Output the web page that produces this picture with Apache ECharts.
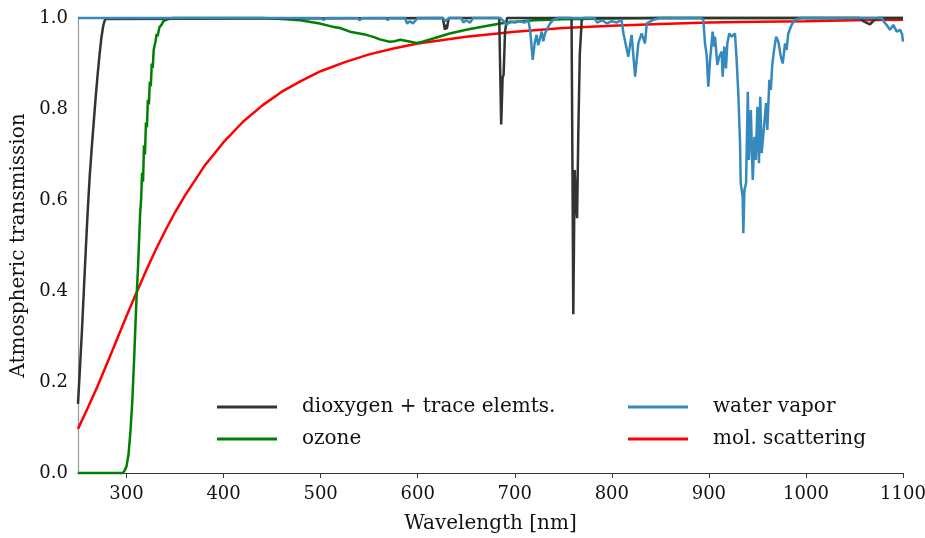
<!DOCTYPE html>
<html>
<head>
<meta charset="utf-8">
<script src="https://cdn.jsdelivr.net/npm/echarts@6/dist/echarts.min.js"></script>
<style>
html,body{margin:0;padding:0;background:#fff;}
#chart{width:925px;height:538px;}
</style>
</head>
<body>
<div id="chart"></div>
<script>
// ---- Data ----
const seriesNames = ['dioxygen + trace elemts.', 'ozone', 'water vapor', 'mol. scattering'];
const xTicks = [300, 400, 500, 600, 700, 800, 900, 1000, 1100];
const yTicks = [0, 0.2, 0.4, 0.6, 0.8, 1.0];

const o2Wl = [250, 252, 254, 256, 258, 260, 262, 264, 266, 268, 270, 272, 274, 276, 278, 280,
  626, 628, 629, 630, 632, 684, 686, 687.5, 688.5, 690, 692,
  758.5, 759.5, 760.3, 761, 761.7, 763, 764.2, 765.5, 767, 769, 771,
  1055, 1060, 1066, 1070, 1075, 1100];
const o2Val = [0.152, 0.23, 0.31, 0.40, 0.49, 0.575, 0.65, 0.71, 0.765, 0.82, 0.87, 0.915, 0.955, 0.983, 0.998, 1.0,
  1.0, 0.974, 0.985, 0.976, 1.0, 1.0, 0.766, 0.87, 0.875, 0.97, 1.0,
  1.0, 0.65, 0.349, 0.5, 0.666, 0.6, 0.56, 0.75, 0.92, 0.995, 1.0,
  1.0, 0.992, 0.986, 0.995, 1.0, 1.0];

const o3Wl = [250, 296, 298, 300, 302, 304, 306, 308, 310, 312, 314, 315, 316, 317, 318, 319, 320, 321, 322, 323,
  324, 325, 326, 327, 328, 330, 331, 332, 334, 336, 338, 342, 348, 440, 460, 479, 490, 499, 512, 520, 530,
  547, 555, 561, 571, 576, 582, 590, 599, 605, 616, 633, 650, 665, 685, 700, 720, 750, 800, 850, 1100];
const o3Val = [0, 0, 0.005, 0.015, 0.04, 0.09, 0.16, 0.26, 0.37, 0.46, 0.57, 0.6, 0.66, 0.64, 0.72, 0.70, 0.77, 0.76, 0.82, 0.81,
  0.86, 0.85, 0.90, 0.89, 0.93, 0.95, 0.965, 0.96, 0.98, 0.985, 0.993, 0.997, 1.0, 1.0, 0.998, 0.995, 0.991, 0.988, 0.981, 0.978, 0.970,
  0.963, 0.958, 0.953, 0.948, 0.949, 0.952, 0.949, 0.945, 0.948, 0.955, 0.966, 0.974, 0.980, 0.988, 0.992, 0.995, 0.997, 0.999, 1.0, 1.0];

const h2oWl = [250, 500, 503, 506, 538, 540, 543, 567, 569, 571, 587, 589, 592, 595, 598, 600,
  626, 629, 632, 645, 647, 650, 654, 657, 685, 689, 692, 695, 700, 705, 710, 714, 716, 718.5, 720.5,
  722.5, 724.2, 726, 727.7, 729.4, 731, 732.9, 736.3, 739.7, 745,
  782, 785, 790, 795, 800, 805, 810, 812, 817, 820.4, 824, 827.3, 830.7, 834.2, 836, 842.7, 850,
  892, 894.3, 896, 897.7, 899.4, 901.2, 903.9, 905.3, 906.3, 908.7, 910.7, 913.2, 914.2, 915.9, 917.6, 919, 921,
  923.5, 926.9, 928.6, 930.3, 932.1, 932.8, 934.8, 935.5, 936.6, 938.3, 940.1, 941.3, 943.2, 945.2, 946.9,
  948.3, 950, 951.6, 952.9, 954.4, 956.8, 958.9, 960.2, 962.3, 963.8, 965.4, 967.2, 969.3, 971.6, 974.1,
  976.1, 978.5, 980.1, 981.8, 985.3, 988.8, 995,
  1078, 1081, 1083, 1086.6, 1090, 1093.5, 1097, 1099, 1100];
const h2oVal = [1.0, 1.0, 0.996, 1.0, 1.0, 0.995, 1.0, 1.0, 0.995, 1.0, 1.0, 0.988, 0.993, 0.988, 0.995, 1.0,
  1.0, 0.993, 1.0, 1.0, 0.99, 0.995, 0.99, 1.0, 1.0, 0.992, 0.985, 0.993, 0.99, 0.993, 0.99, 0.995, 0.97, 0.908, 0.945,
  0.963, 0.94, 0.955, 0.97, 0.949, 0.965, 0.974, 0.988, 0.996, 1.0,
  1.0, 0.99, 0.995, 0.988, 0.993, 0.99, 0.996, 0.966, 0.915, 0.963, 0.871, 0.944, 0.966, 0.944, 0.988, 0.996, 1.0,
  1.0, 0.996, 0.944, 0.919, 0.849, 0.908, 0.97, 0.937, 0.959, 0.897, 0.915, 0.926, 0.871, 0.937, 0.889, 0.944, 0.966,
  0.959, 0.966, 0.908, 0.835, 0.725, 0.637, 0.607, 0.527, 0.622, 0.637, 0.838, 0.688, 0.798, 0.644, 0.739,
  0.688, 0.805, 0.681, 0.827, 0.703, 0.761, 0.813, 0.754, 0.864, 0.842, 0.9, 0.93, 0.959, 0.948, 0.915,
  0.9, 0.944, 0.93, 0.966, 0.985, 0.996, 1.0,
  1.0, 0.99, 0.985, 0.974, 0.985, 0.97, 0.974, 0.965, 0.948];

const rayWl = [250, 260, 270, 280, 290, 300, 310, 320, 330, 340, 350, 360, 380, 400, 420, 440, 460, 480, 500,
  525, 550, 575, 600, 650, 700, 750, 800, 850, 900, 950, 1000, 1050, 1100];
const rayVal = [0.097, 0.143, 0.190, 0.241, 0.293, 0.345, 0.395, 0.444, 0.490, 0.533, 0.573, 0.609, 0.674, 0.727, 0.772, 0.808, 0.838, 0.862, 0.883,
  0.903, 0.920, 0.933, 0.944, 0.959, 0.970, 0.978, 0.983, 0.987, 0.990, 0.992, 0.993, 0.995, 0.996];

const colors = ['#333333', '#008000', '#348ABD', '#FF0000'];

function pairs(xs, ys) { return xs.map((x, i) => [x, ys[i]]); }

const FONT = 'DejaVu Serif';
const chart = echarts.init(document.getElementById('chart'), null, {renderer: 'canvas'});

function lineSeries(name, xs, ys, color, z) {
  return {
    name: name, type: 'line', data: pairs(xs, ys), showSymbol: false, symbol: 'none',
    clip: false, z: z, animation: false,
    lineStyle: {color: color, width: 2.5}, itemStyle: {color: color}
  };
}

const legendCommon = {
  orient: 'vertical', icon: 'rect', itemWidth: 60, itemHeight: 3, itemGap: 12, padding: 0,
  textStyle: {fontFamily: FONT, fontSize: 20, color: '#111', padding: [0, 0, 0, 20]},
  selectedMode: false
};

chart.setOption({
  animation: false,
  backgroundColor: '#fff',
  color: colors,
  grid: {left: 78, right: 22, top: 18, bottom: 65, containLabel: false, outerBoundsMode: 'none'},
  legend: [
    Object.assign({}, legendCommon, {data: [seriesNames[0], seriesNames[1]], left: 217, top: 397}),
    Object.assign({}, legendCommon, {data: [seriesNames[2], seriesNames[3]], left: 628, top: 397})
  ],
  xAxis: {
    type: 'value', min: 250, max: 1100,
    name: 'Wavelength [nm]', nameLocation: 'middle', nameGap: 41,
    nameTextStyle: {fontFamily: FONT, fontSize: 20, color: '#111'},
    axisLine: {show: true, lineStyle: {color: '#333', width: 1.2}},
    axisTick: {show: true, inside: false, length: 5, customValues: xTicks, lineStyle: {color: '#333'}},
    axisLabel: {fontFamily: FONT, fontSize: 18, color: '#111', margin: 12, customValues: xTicks,
      formatter: v => String(v)},
    splitLine: {show: false}
  },
  yAxis: {
    type: 'value', min: 0, max: 1, interval: 0.2,
    name: 'Atmospheric transmission', nameLocation: 'middle', nameGap: 49,
    nameTextStyle: {fontFamily: FONT, fontSize: 20, color: '#111'},
    axisLine: {show: true, lineStyle: {color: '#999', width: 1.2}},
    axisTick: {show: false},
    axisLabel: {fontFamily: FONT, fontSize: 18, color: '#111', margin: 10,
      formatter: v => v.toFixed(1)},
    splitLine: {show: false}
  },
  series: [
    lineSeries(seriesNames[0], o2Wl, o2Val, colors[0], 3),
    lineSeries(seriesNames[1], o3Wl, o3Val, colors[1], 2),
    lineSeries(seriesNames[2], h2oWl, h2oVal, colors[2], 4),
    lineSeries(seriesNames[3], rayWl, rayVal, colors[3], 1)
  ]
});
</script>
</body>
</html>
